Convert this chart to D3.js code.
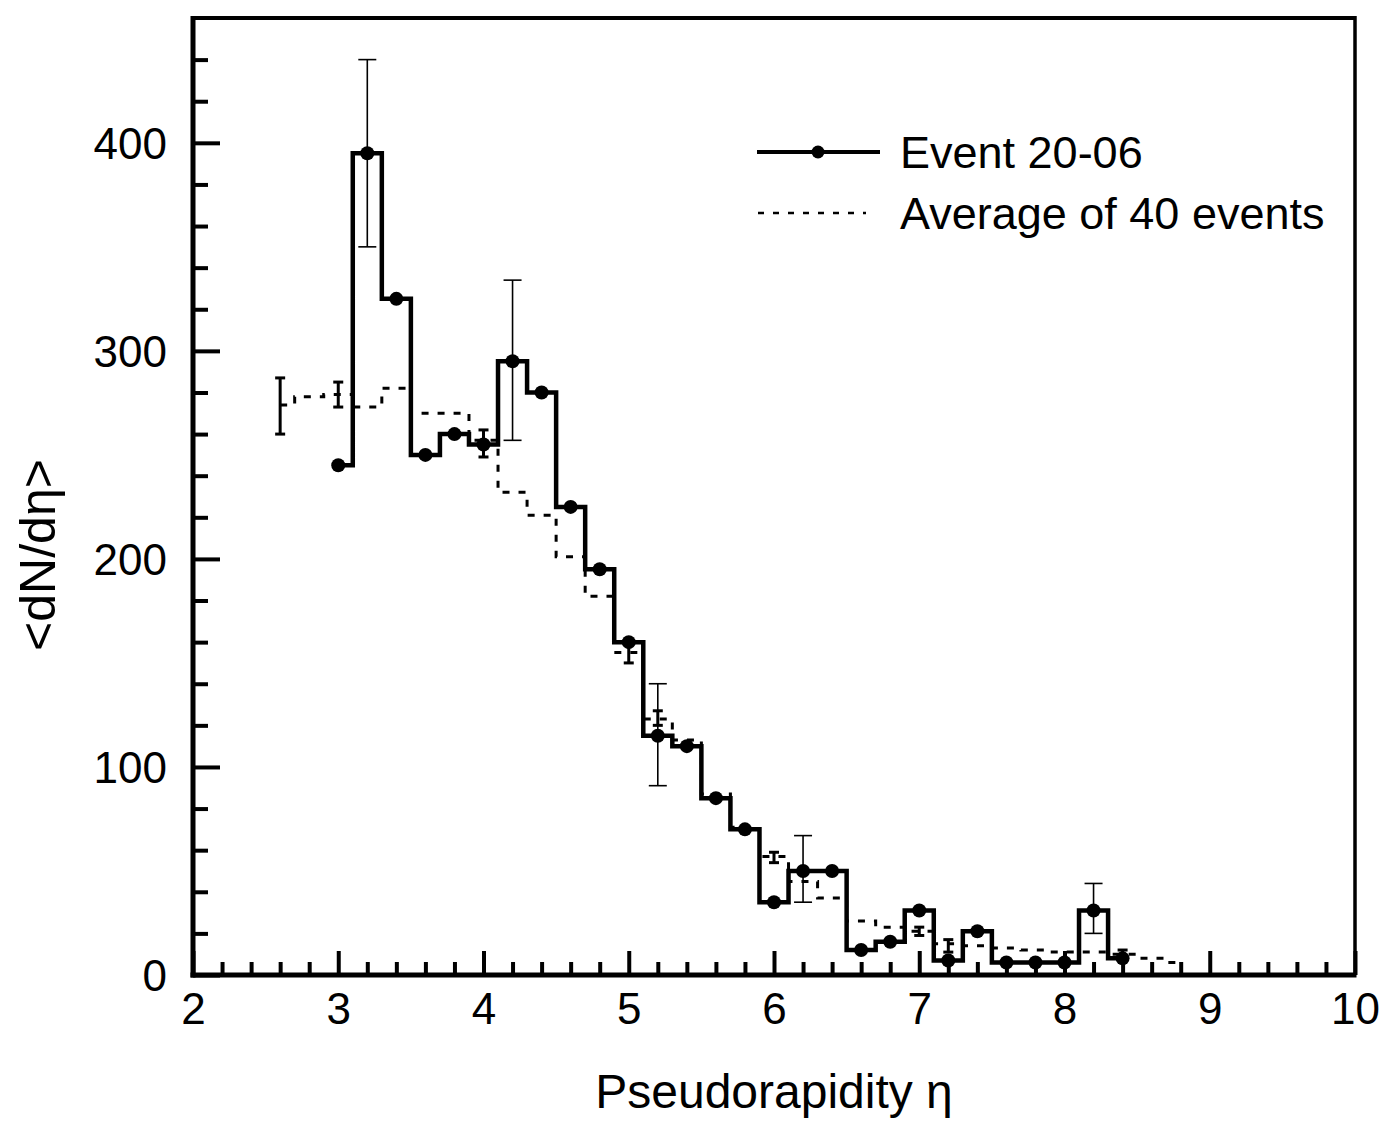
<!DOCTYPE html>
<html>
<head>
<meta charset="utf-8">
<script src="https://cdn.jsdelivr.net/npm/d3@7"></script>
<style>
  html, body { margin: 0; padding: 0; background: #fff; }
  svg { display: block; }
  text { font-family: "Liberation Sans", Arial, Helvetica, sans-serif; fill: #000; }
</style>
</head>
<body>
<svg id="chart" width="1388" height="1125"></svg>
<script>
// ---- Data ----
const eventEta    = [3.0, 3.2, 3.4, 3.6, 3.8, 4.0, 4.2, 4.4, 4.6, 4.8, 5.0, 5.2, 5.4, 5.6, 5.8, 6.0, 6.2, 6.4, 6.6, 6.8, 7.0, 7.2, 7.4, 7.6, 7.8, 8.0, 8.2, 8.4];
const eventValues = [245, 395, 325, 250, 260, 255, 295, 280, 225, 195, 160, 115, 110, 85, 70, 35, 50, 50, 12, 16, 31, 7, 21, 6, 6, 6, 31, 8];
const eventErrEta  = [3.2, 4.2, 5.2, 6.2, 8.2];
const eventErrLow  = [350, 257, 91, 35, 20];
const eventErrHigh = [440, 334, 140, 67, 44];

const avgEta    = [2.6, 2.8, 3.0, 3.2, 3.4, 3.6, 3.8, 4.0, 4.2, 4.4, 4.6, 4.8, 5.0, 5.2, 5.4, 5.6, 5.8, 6.0, 6.2, 6.4, 6.6, 6.8, 7.0, 7.2, 7.4, 7.6, 7.8, 8.0, 8.2, 8.4, 8.6, 8.8];
const avgValues = [274, 278, 279, 273, 282, 270, 270, 257, 232, 221, 201, 182, 155, 123, 113, 87, 71, 57, 45, 37, 26, 23, 21, 15, 14, 13, 12, 11, 11, 10, 8, 6];
const avgErrEta  = [2.6, 3.0, 4.0, 5.0, 5.2, 6.0, 7.0, 7.2, 8.4];
const avgErrLow  = [260, 273, 249, 150, 120, 54, 19, 11, 8];
const avgErrHigh = [287, 285, 262, 160, 127, 59, 23, 17, 12];

const xTickLabels = [2, 3, 4, 5, 6, 7, 8, 9, 10];
const yTickLabels = [0, 100, 200, 300, 400];
const legendLabels = ["Event 20-06", "Average of 40 events"];
const xTitle = "Pseudorapidity \u03b7";
const yTitle = "<dN/d\u03b7>";

// ---- Layout ----
const W = 1388, H = 1125;
const margin = { left: 193, right: 33, top: 18, bottom: 150 };
const iw = W - margin.left - margin.right;
const ih = H - margin.top - margin.bottom;

const svg = d3.select("#chart");
const g = svg.append("g").attr("transform", `translate(${margin.left},${margin.top})`);

const x = d3.scaleLinear().domain([2, 10]).range([0, iw]);
const y = d3.scaleLinear().domain([0, 460]).range([ih, 0]);

// ---- Ticks (inside) ----
const xMinor = d3.range(2.2, 10, 0.2).map(v => +v.toFixed(1)).filter(v => Math.abs(v - Math.round(v)) > 1e-6);
const yMinor = d3.range(20, 460, 20).filter(v => v % 100 !== 0);

const xAxisMajor = d3.axisBottom(x).tickValues(xTickLabels).tickSize(-24).tickFormat(d3.format("d")).tickPadding(40);
const xAxisMinor = d3.axisBottom(x).tickValues(xMinor).tickSize(-13).tickFormat("");
const yAxisMajor = d3.axisLeft(y).tickValues(yTickLabels).tickSize(-27).tickFormat(d3.format("d")).tickPadding(26);
const yAxisMinor = d3.axisLeft(y).tickValues(yMinor).tickSize(-15).tickFormat("");

function styleAxis(sel) {
  sel.select(".domain").remove();
  sel.selectAll(".tick line").attr("stroke", "#000").attr("stroke-width", 4);
  sel.selectAll(".tick text").attr("font-size", 44).attr("font-family", "Liberation Sans, Arial, sans-serif").attr("fill", "#000");
}

g.append("g").attr("transform", `translate(0,${ih})`).call(xAxisMinor).call(styleAxis);
g.append("g").attr("transform", `translate(0,${ih})`).call(xAxisMajor).call(styleAxis)
  .selectAll(".tick text").attr("dy", "0.2em");
g.append("g").call(yAxisMinor).call(styleAxis);
g.append("g").call(yAxisMajor).call(styleAxis)
  .selectAll(".tick text").attr("dy", "0.36em");

// ---- Frame ----
g.append("line").attr("x1", 0).attr("x2", iw).attr("y1", 0).attr("y2", 0).attr("stroke", "#000").attr("stroke-width", 4);
g.append("line").attr("x1", iw).attr("x2", iw).attr("y1", -2).attr("y2", ih).attr("stroke", "#000").attr("stroke-width", 3.5);
g.append("line").attr("x1", 0).attr("x2", 0).attr("y1", -2).attr("y2", ih + 2.5).attr("stroke", "#000").attr("stroke-width", 5);
g.append("line").attr("x1", -2.5).attr("x2", iw + 1.5).attr("y1", ih).attr("y2", ih).attr("stroke", "#000").attr("stroke-width", 5);

// ---- Average (dashed step histogram) ----
const avgData = avgEta.map((e, i) => [e, avgValues[i]]);
const step = d3.line().x(d => x(d[0])).y(d => y(d[1])).curve(d3.curveStep);
g.append("path").datum(avgData).attr("d", step)
  .attr("fill", "none").attr("stroke", "#000").attr("stroke-width", 3).attr("stroke-dasharray", "7,9");

// average error bars
const avgErr = avgErrEta.map((e, i) => ({ e, lo: avgErrLow[i], hi: avgErrHigh[i] }));
const ae = g.append("g").attr("stroke", "#000").attr("stroke-width", 3);
avgErr.forEach(d => {
  ae.append("line").attr("x1", x(d.e)).attr("x2", x(d.e)).attr("y1", y(d.lo)).attr("y2", y(d.hi));
  ae.append("line").attr("x1", x(d.e) - 5).attr("x2", x(d.e) + 5).attr("y1", y(d.lo)).attr("y2", y(d.lo));
  ae.append("line").attr("x1", x(d.e) - 5).attr("x2", x(d.e) + 5).attr("y1", y(d.hi)).attr("y2", y(d.hi));
});

// ---- Event (solid step histogram) ----
const evData = eventEta.map((e, i) => [e, eventValues[i]]);
g.append("path").datum(evData).attr("d", step)
  .attr("fill", "none").attr("stroke", "#000").attr("stroke-width", 4.5).attr("stroke-linejoin", "miter");

// event error bars
const evErr = eventErrEta.map((e, i) => ({ e, lo: eventErrLow[i], hi: eventErrHigh[i] }));
const ee = g.append("g").attr("stroke", "#000").attr("stroke-width", 1.6);
evErr.forEach(d => {
  ee.append("line").attr("x1", x(d.e)).attr("x2", x(d.e)).attr("y1", y(d.lo)).attr("y2", y(d.hi));
  ee.append("line").attr("x1", x(d.e) - 9).attr("x2", x(d.e) + 9).attr("y1", y(d.lo)).attr("y2", y(d.lo));
  ee.append("line").attr("x1", x(d.e) - 9).attr("x2", x(d.e) + 9).attr("y1", y(d.hi)).attr("y2", y(d.hi));
});

// event points
g.append("g").selectAll("circle").data(evData).join("circle")
  .attr("cx", d => x(d[0])).attr("cy", d => y(d[1])).attr("r", 7).attr("fill", "#000");

// ---- Legend ----
const lg = svg.append("g");
lg.append("line").attr("x1", 757).attr("x2", 880).attr("y1", 152).attr("y2", 152).attr("stroke", "#000").attr("stroke-width", 4);
lg.append("circle").attr("cx", 818).attr("cy", 152).attr("r", 6.5).attr("fill", "#000");
lg.append("text").attr("x", 900).attr("y", 168).attr("font-size", 45).text(legendLabels[0]);
lg.append("line").attr("x1", 758).attr("x2", 866).attr("y1", 213).attr("y2", 213).attr("stroke", "#000").attr("stroke-width", 2.5).attr("stroke-dasharray", "6,9");
lg.append("text").attr("x", 900).attr("y", 229).attr("font-size", 45).text(legendLabels[1]);

// ---- Titles ----
svg.append("text").attr("x", margin.left + iw / 2).attr("y", 1108).attr("text-anchor", "middle").attr("font-size", 48).text(xTitle);
svg.append("text").attr("transform", "translate(55,555) rotate(-90)").attr("text-anchor", "middle").attr("font-size", 50).text(yTitle);
</script>
</body>
</html>
